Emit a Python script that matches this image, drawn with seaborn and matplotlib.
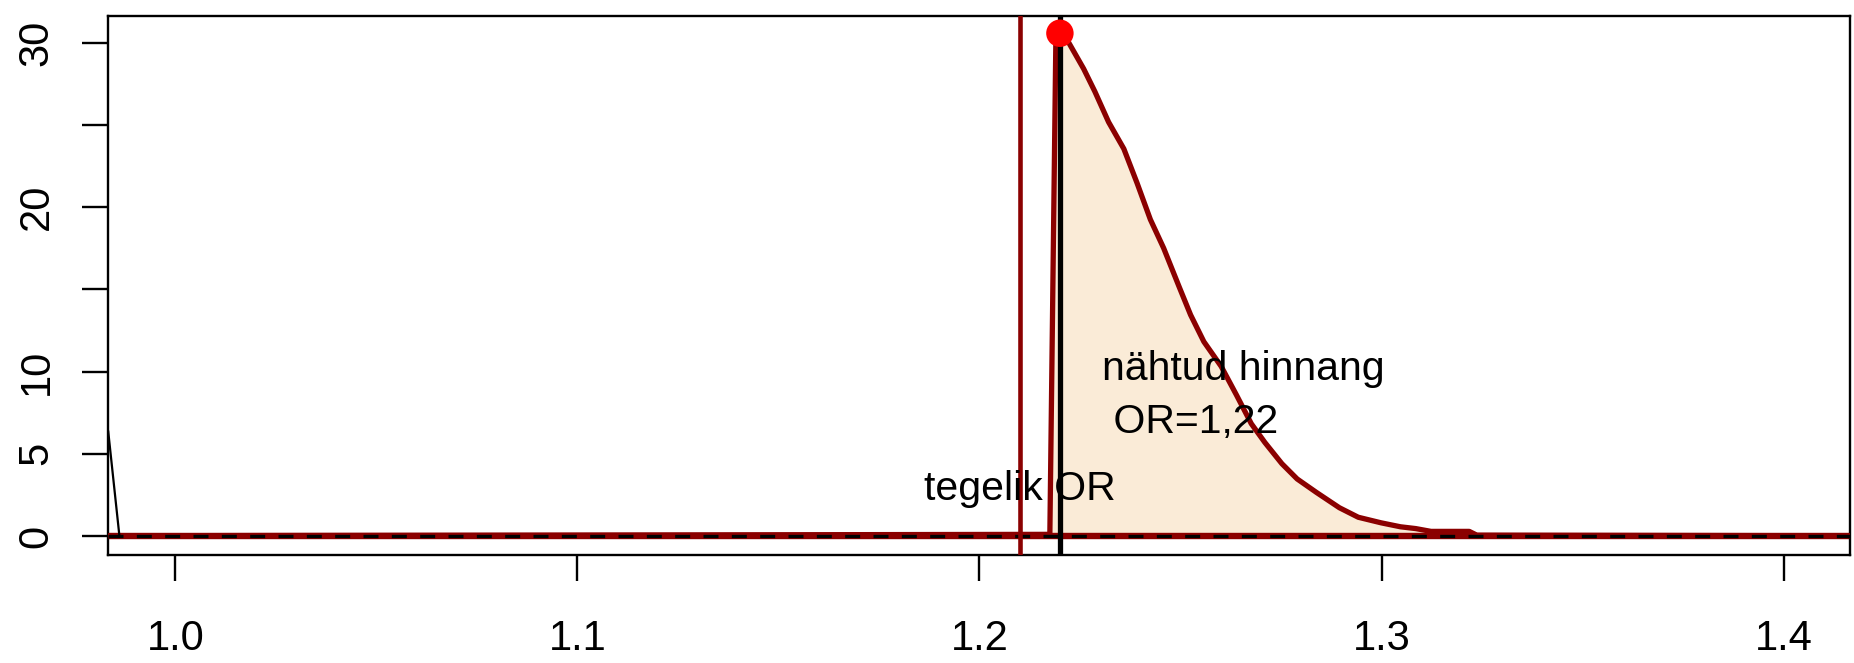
import matplotlib
matplotlib.use("Agg")
import matplotlib.pyplot as plt
import seaborn as sns

# bootstrap density of the odds ratio
or_grid = [0.95, 1.2175, 1.2190, 1.2200, 1.2221, 1.2259, 1.2287, 1.2321, 1.2359,
           1.2392, 1.2425, 1.2458, 1.2496, 1.2525, 1.2558, 1.2601, 1.2639, 1.2676,
           1.2710, 1.2752, 1.2790, 1.2838, 1.2895, 1.2942, 1.2999, 1.3047, 1.3085,
           1.3123, 1.3218, 1.3237, 1.45]
or_density = [0.0, 0.1, 30.28, 30.58, 30.05, 28.42, 27.03, 25.18, 23.55,
              21.46, 19.25, 17.51, 15.19, 13.45, 11.82, 10.32, 8.58, 6.83,
              5.68, 4.40, 3.47, 2.65, 1.72, 1.14, 0.80, 0.56, 0.45,
              0.28, 0.28, 0.05, 0.0]

# tail of the reference density (black, far left)
null_x = [0.9833, 0.9861]
null_y = [6.4, 0.0]

true_or = 1.21
obs_or = 1.22
obs_peak = 30.58

x_ticks = [1.0, 1.1, 1.2, 1.3, 1.4]
x_labels = ["1.0", "1.1", "1.2", "1.3", "1.4"]
y_ticks = [0, 5, 10, 15, 20, 25, 30]
y_labels = ["0", "5", "10", "", "20", "", "30"]

sns.set_theme(style="white")
plt.rcParams["font.family"] = ["Liberation Sans", "DejaVu Sans"]

fig = plt.figure(figsize=(18.54, 6.63), dpi=100)
ax = fig.add_axes([0.05825, 0.1629, 0.9396, 0.8130])

darkred = "#8B0000"

ax.fill_between(or_grid, or_density, 0, color="#FAEBD7", lw=0, zorder=1)
ax.axhline(0, color=darkred, lw=4.6, zorder=2)
sns.lineplot(x=or_grid, y=or_density, sort=False, estimator=None,
             color=darkred, lw=3.8, ax=ax, zorder=3)
sns.lineplot(x=null_x, y=null_y, sort=False, estimator=None,
             color="black", lw=1.6, ax=ax, zorder=3)
ax.axhline(0, color="black", lw=2.4, ls=(0, (4.5, 4)), zorder=4)
ax.axvline(true_or, color=darkred, lw=3.3, zorder=4)
ax.axvline(obs_or, color="black", lw=3.8, zorder=4)
sns.scatterplot(x=[obs_or], y=[obs_peak], s=390, color="red",
                edgecolor="none", ax=ax, zorder=6)

txt = dict(fontsize=29.5, color="black", zorder=7)
ax.text(true_or, 2.19, "tegelik OR", ha="center", va="baseline", **txt)
ax.text(1.2305, 9.46, "nähtud hinnang", ha="left", va="baseline", **txt)
ax.text(1.2305, 6.27, " OR=1,22", ha="left", va="baseline", **txt)

ax.set_xlim(0.98326, 1.4165)
ax.set_ylim(-1.156, 31.63)
ax.set_xticks(x_ticks)
ax.set_xticklabels(x_labels)
ax.set_yticks(y_ticks)
ax.set_yticklabels(y_labels, rotation=90, va="center")
ax.tick_params(axis="both", which="major", direction="out", length=19,
               width=1.7, color="black", labelsize=30, labelcolor="black")
ax.tick_params(axis="x", pad=27, bottom=True)
ax.tick_params(axis="y", pad=18, left=True)
ax.set_xlabel("")
ax.set_ylabel("")
for s in ax.spines.values():
    s.set_visible(True)
    s.set_color("black")
    s.set_linewidth(1.7)
ax.grid(False)

fig.savefig("out.png", dpi=100)
